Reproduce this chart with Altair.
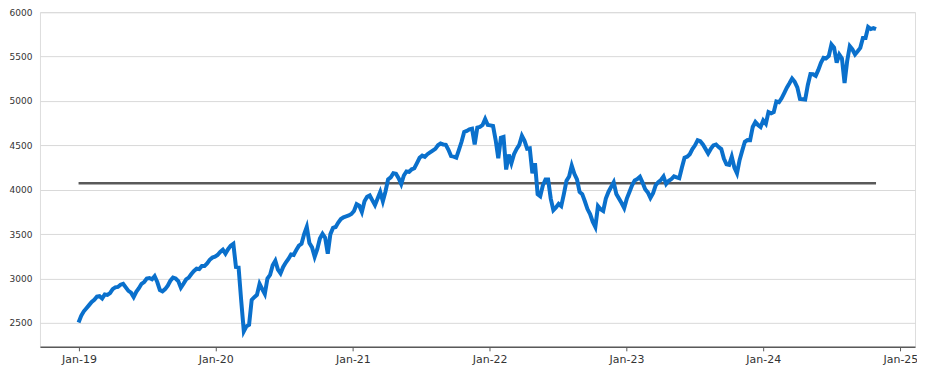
import altair as alt
import pandas as pd

# Weekly index level, first week starting 2018-12-31
start_week = "2018-12-31"
index_values = [
    2505, 2580, 2630, 2665, 2700, 2735, 2760, 2795, 2800, 2775,
    2820, 2815, 2835, 2880, 2900, 2905, 2930, 2940, 2900, 2860,
    2840, 2790, 2850, 2890, 2940, 2960, 3000, 3005, 2990, 3025,
    2960, 2870, 2855, 2880, 2920, 2975, 3010, 3000, 2970, 2895,
    2940, 2990, 3010, 3050, 3085, 3110, 3105, 3140, 3140, 3170,
    3210, 3235, 3245, 3265, 3300, 3325, 3280, 3330, 3370, 3390,
    3130, 3125, 2750, 2405, 2460, 2478, 2760, 2790, 2815, 2940,
    2880, 2825, 3000, 3040, 3150, 3200, 3100, 3057, 3130, 3180,
    3220, 3270, 3265, 3320, 3370, 3390, 3500, 3581, 3400, 3350,
    3245, 3330, 3450, 3503, 3460, 3280, 3500, 3570, 3580, 3630,
    3670, 3690, 3700, 3710, 3726, 3760, 3838, 3820, 3750, 3870,
    3920, 3935, 3880, 3826, 3900, 3975, 3870, 3980, 4116, 4140,
    4186, 4180, 4130, 4064, 4160, 4205, 4200, 4230, 4242, 4300,
    4360, 4384, 4370, 4400, 4420, 4440, 4460, 4500, 4520, 4510,
    4506, 4450, 4380, 4373, 4362, 4450, 4540, 4650, 4662, 4680,
    4688, 4510, 4700, 4707, 4729, 4796, 4729, 4725, 4718, 4560,
    4354, 4585, 4595, 4228, 4395, 4298, 4400, 4460, 4506, 4607,
    4550, 4462, 4466, 4186, 4298, 3950, 3927, 4050, 4116, 4116,
    3900, 3770, 3800, 3840, 3815, 3950, 4100, 4150, 4272, 4180,
    4116, 3975, 3950, 3870, 3782, 3726, 3640, 3581, 3815, 3780,
    3760, 3900, 3975, 4030, 4083, 3952, 3900, 3850, 3793, 3900,
    3975, 4050, 4105, 4120, 4145, 4080, 4005, 3970, 3908, 3960,
    4050, 4086, 4110, 4150, 4064, 4100, 4120, 4150, 4140, 4130,
    4250, 4361, 4372, 4400, 4458, 4500, 4558, 4547, 4510, 4460,
    4409, 4460, 4500, 4510, 4480, 4458, 4350, 4287, 4280, 4372,
    4250, 4186, 4336, 4440, 4540, 4560, 4558, 4707, 4763, 4730,
    4707, 4781, 4744, 4874, 4860, 4874, 4993, 4985, 5030, 5089,
    5150, 5200, 5253, 5216, 5153, 5023, 5020, 5016, 5180, 5302,
    5300, 5283, 5350, 5430, 5487, 5480, 5506, 5636, 5600, 5431,
    5524, 5480, 5201, 5450, 5617, 5580, 5524, 5560, 5598, 5710,
    5710, 5833, 5810, 5821, 5810,
]
average_level = 4072
y_ticks = [2500, 3000, 3500, 4000, 4500, 5000, 5500, 6000]
x_tick_years = ["2019", "2020", "2021", "2022", "2023", "2024", "2025"]

dates = pd.date_range(start_week, periods=len(index_values), freq="7D")
df = pd.DataFrame({"date": dates, "value": index_values})
avg_df = pd.DataFrame({
    "date": [dates[0], dates[-1]],
    "value": [average_level, average_level],
})

x_scale = alt.Scale(domain=["2018-09-19", "2025-02-09"], nice=False)
y_scale = alt.Scale(domain=[2230, 6000], nice=False, zero=False)

x_axis = alt.Axis(
    values=[f"{y}-01-01" for y in x_tick_years],
    format="%b-%y",
    labelFont="DejaVu Sans",
    labelFontSize=11,
    labelColor="#333333",
    domainColor="#595959",
    domainWidth=1.5,
    tickColor="#595959",
    tickSize=4,
    labelPadding=3,
    grid=False,
    title=None,
)
y_axis = alt.Axis(
    values=y_ticks,
    format="d",
    labelFont="DejaVu Sans",
    labelFontSize=9,
    labelColor="#333333",
    domain=False,
    ticks=False,
    labelPadding=8,
    gridColor="#d9d9d9",
    gridWidth=1,
    title=None,
)

line = alt.Chart(df).mark_line(color="#0A70CC", strokeWidth=4).encode(
    x=alt.X("date:T", scale=x_scale, axis=x_axis),
    y=alt.Y("value:Q", scale=y_scale, axis=y_axis),
)
avg = alt.Chart(avg_df).mark_line(color="#595959", strokeWidth=2.5).encode(
    x=alt.X("date:T", scale=x_scale),
    y=alt.Y("value:Q", scale=y_scale),
)

chart = (
    alt.layer(avg, line)
    .properties(
        width=876,
        height=335,
        autosize=alt.AutoSizeParams(type="none"),
        padding={"left": 32, "top": 4, "right": 2, "bottom": 22},
    )
    .configure_view(stroke=None)
    .configure(background="white")
)

chart.save("out.html", embed_options={"renderer": "svg", "actions": False})
